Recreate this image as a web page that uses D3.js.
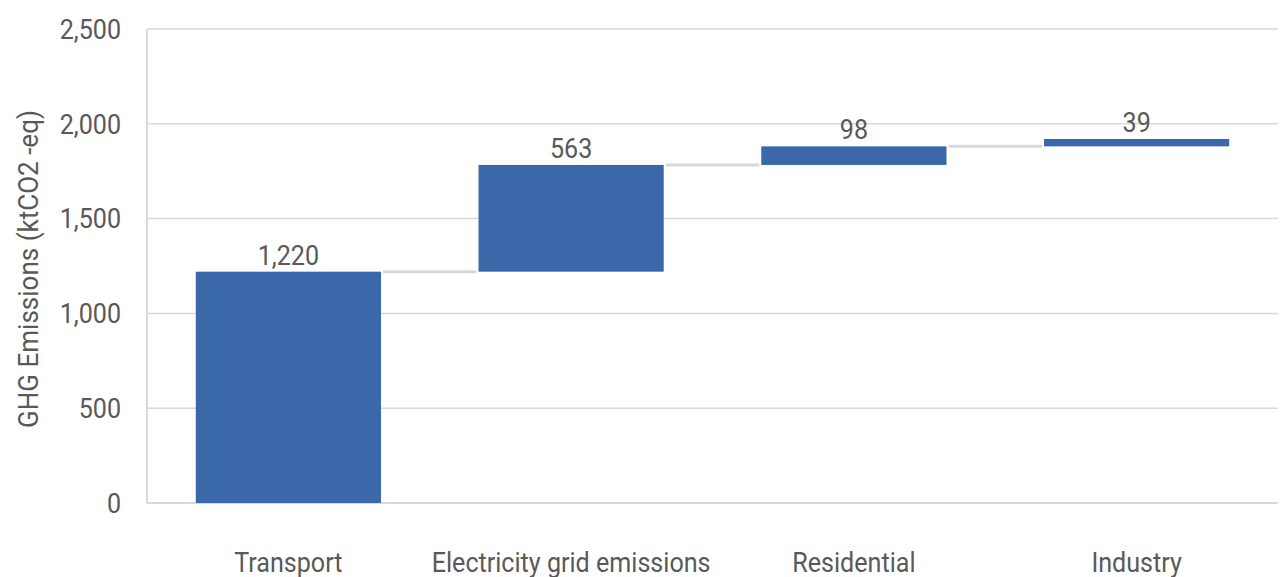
<!DOCTYPE html>
<html>
<head>
<meta charset="utf-8">
<script src="https://cdn.jsdelivr.net/npm/d3@7"></script>
<style>
  html, body { margin: 0; padding: 0; background: #fff; }
  svg { display: block; }
  text { font-family: Roboto, "Noto Sans", sans-serif; fill: #595959; }
</style>
</head>
<body>
<svg id="chart" width="1280" height="577"></svg>
<script>
// Waterfall of GHG emissions by sector (ktCO2-eq)
const categories = ["Transport", "Electricity grid emissions", "Residential", "Industry"];
const values = [1220, 563, 98, 39];
const yTicks = [0, 500, 1000, 1500, 2000, 2500];
const yTitle = "GHG Emissions (ktCO2 -eq)";

const plot = { left: 147, right: 1278, top: 29, bottom: 503 };
const squeeze = 0.93; // narrow the glyphs horizontally

const svg = d3.select("#chart");

const x = d3.scaleBand()
  .domain(categories)
  .range([plot.left, plot.right])
  .paddingInner(0.345)
  .paddingOuter(0.1725);

const y = d3.scaleLinear().domain([0, 2500]).range([plot.bottom, plot.top]);

// running totals: each step starts where the previous one ended
let acc = 0;
const steps = categories.map((c, i) => {
  const start = acc;
  acc += values[i];
  return { cat: c, value: values[i], start, end: acc };
});

// gridlines
svg.append("g")
  .selectAll("line")
  .data(yTicks.filter(t => t > 0))
  .join("line")
  .attr("x1", plot.left).attr("x2", plot.right)
  .attr("y1", d => y(d)).attr("y2", d => y(d))
  .attr("stroke", "#d9d9d9").attr("stroke-width", 1.5);

// axis lines
svg.append("line")
  .attr("x1", plot.left).attr("x2", plot.left)
  .attr("y1", y(2500)).attr("y2", y(0))
  .attr("stroke", "#d9d9d9").attr("stroke-width", 2);
svg.append("line")
  .attr("x1", plot.left).attr("x2", plot.right)
  .attr("y1", y(0)).attr("y2", y(0))
  .attr("stroke", "#d9d9d9").attr("stroke-width", 2);

// y tick labels
const fmt = d3.format(",");
svg.append("g")
  .selectAll("text")
  .data(yTicks)
  .join("text")
  .attr("transform", d => `translate(121,${y(d)}) scale(${squeeze},1)`)
  .attr("dy", "0.36em")
  .attr("text-anchor", "end")
  .attr("font-size", 27)
  .text(d => fmt(d));

// connectors between consecutive steps
svg.append("g")
  .selectAll("line")
  .data(steps.slice(0, -1))
  .join("line")
  .attr("x1", (d) => x(d.cat) + x.bandwidth() + 2)
  .attr("x2", (d, i) => x(steps[i + 1].cat) - 2)
  .attr("y1", d => y(d.end)).attr("y2", d => y(d.end))
  .attr("stroke", "#d9d9d9").attr("stroke-width", 3);

// bars
svg.append("g")
  .selectAll("rect")
  .data(steps)
  .join("rect")
  .attr("x", d => x(d.cat))
  .attr("width", x.bandwidth())
  .attr("y", d => y(d.end))
  .attr("height", d => y(d.start) - y(d.end))
  .attr("fill", "#3a68a9");

// value labels
svg.append("g")
  .selectAll("text")
  .data(steps)
  .join("text")
  .attr("transform", d => `translate(${x(d.cat) + x.bandwidth() / 2},${y(d.end) - 7}) scale(${squeeze},1)`)
  .attr("text-anchor", "middle")
  .attr("font-size", 27)
  .text(d => fmt(d.value));

// category labels
svg.append("g")
  .selectAll("text")
  .data(categories)
  .join("text")
  .attr("transform", d => `translate(${x(d) + x.bandwidth() / 2},572) scale(${squeeze},1)`)
  .attr("text-anchor", "middle")
  .attr("font-size", 27)
  .text(d => d);

// y axis title
svg.append("text")
  .attr("transform", `translate(38,269) rotate(-90) scale(${squeeze},1)`)
  .attr("text-anchor", "middle")
  .attr("font-size", 28)
  .text(yTitle);
</script>
</body>
</html>
